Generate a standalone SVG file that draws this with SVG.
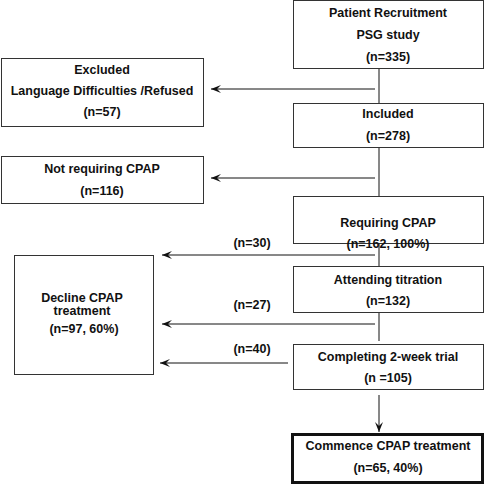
<svg xmlns="http://www.w3.org/2000/svg" width="485" height="485" viewBox="0 0 485 485">
<style>
.box{fill:#fff;stroke:#333;stroke-width:1}
.thick{fill:#fff;stroke:#111;stroke-width:3}
.t{font-family:"Liberation Sans",Arial,sans-serif;font-weight:bold;font-size:12.5px;fill:#111;text-anchor:middle}
.ln{stroke:#111;stroke-width:1;fill:none}
</style>
<defs>
<marker id="ah" viewBox="0 0 10 10" refX="10" refY="5" markerWidth="10" markerHeight="10" markerUnits="userSpaceOnUse" orient="auto">
<path d="M10,5 L0,1 L4,5 L0,9 Z" fill="#111"/>
</marker>
</defs>
<rect width="485" height="485" fill="#fff"/>
<g id="connectors">
<line class="ln" x1="379" y1="69" x2="379" y2="103"/>
<line class="ln" x1="375" y1="89" x2="211" y2="89" marker-end="url(#ah)"/>
<line class="ln" x1="379" y1="148" x2="379" y2="196"/>
<line class="ln" x1="375" y1="178" x2="211" y2="178" marker-end="url(#ah)"/>
<line class="ln" x1="379" y1="244" x2="379" y2="266"/>
<line class="ln" x1="375" y1="255" x2="162" y2="255" marker-end="url(#ah)"/>
<line class="ln" x1="379" y1="313" x2="379" y2="341"/>
<line class="ln" x1="375" y1="324" x2="162" y2="324" marker-end="url(#ah)"/>
<line class="ln" x1="288" y1="363" x2="160" y2="363" marker-end="url(#ah)"/>
<line class="ln" x1="379" y1="395" x2="379" y2="432" marker-end="url(#ah)"/>
<text class="t" x="252" y="247">(n=30)</text>
<text class="t" x="252" y="309">(n=27)</text>
<text class="t" x="252" y="353">(n=40)</text>
</g>
<g id="recruitment">
<rect class="box" x="293.5" y="0.5" width="190" height="68"/>
<text class="t" x="388" y="17">Patient Recruitment</text>
<text class="t" x="388" y="39">PSG study</text>
<text class="t" x="388" y="61">(n=335)</text>
</g>
<g id="excluded">
<rect class="box" x="1.5" y="58.5" width="202" height="68"/>
<text class="t" x="102" y="74">Excluded</text>
<text class="t" x="102" y="95">Language Difficulties /Refused</text>
<text class="t" x="102" y="116">(n=57)</text>
</g>
<g id="included">
<rect class="box" x="293.5" y="103.5" width="190" height="44"/>
<text class="t" x="388" y="118">Included</text>
<text class="t" x="388" y="140">(n=278)</text>
</g>
<g id="notrequiring">
<rect class="box" x="1.5" y="156.5" width="202" height="47"/>
<text class="t" x="102" y="173">Not requiring CPAP</text>
<text class="t" x="102" y="195">(n=116)</text>
</g>
<g id="requiring">
<rect class="box" x="293.5" y="196.5" width="190" height="47"/>
<text class="t" x="388" y="227">Requiring CPAP</text>
<text class="t" x="388" y="248">(n=162, 100%)</text>
</g>
<g id="attending">
<rect class="box" x="293.5" y="266.5" width="190" height="46"/>
<text class="t" x="388" y="284">Attending titration</text>
<text class="t" x="388" y="305">(n=132)</text>
</g>
<g id="completing">
<rect class="box" x="293.5" y="344.5" width="190" height="45"/>
<text class="t" x="388" y="361">Completing 2-week trial</text>
<text class="t" x="388" y="382">(n =105)</text>
</g>
<g id="decline">
<rect class="box" x="14.5" y="255.5" width="139" height="119"/>
<text class="t" x="82" y="302">Decline CPAP</text>
<text class="t" x="82" y="315">treatment</text>
<text class="t" x="84" y="333">(n=97, 60%)</text>
</g>
<g id="commence">
<rect class="thick" x="292.5" y="434.5" width="190" height="48"/>
<text class="t" x="388" y="450">Commence CPAP treatment</text>
<text class="t" x="388" y="472">(n=65, 40%)</text>
</g>
</svg>
